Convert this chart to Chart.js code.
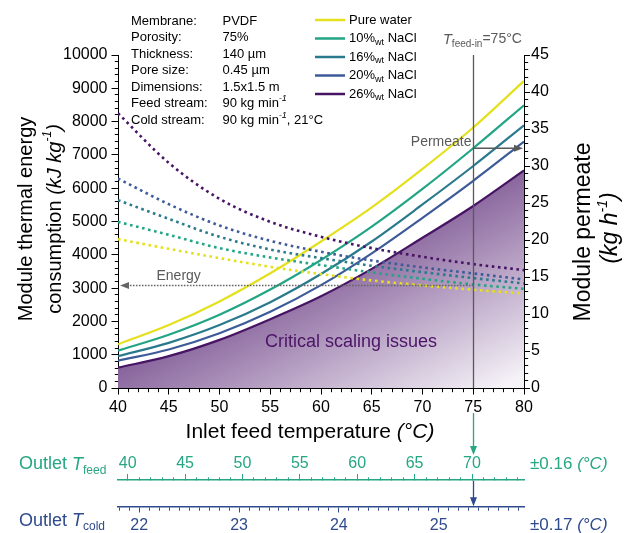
<!DOCTYPE html>
<html><head><meta charset="utf-8">
<script src="https://cdn.jsdelivr.net/npm/chart.js@4.4.1/dist/chart.umd.min.js"></script>
<style>html,body{margin:0;padding:0;background:#fff;}#wrap{width:624px;height:533px;position:relative;}</style>
</head><body><div id="wrap"><canvas id="c" width="624" height="533"></canvas></div>
<script>
// ---------- data ----------
const temperatures = [40, 45, 50, 55, 60, 65, 70, 75, 80];
const energyPure = [4470, 4180, 3900, 3640, 3420, 3230, 3080, 2950, 2840];
const energy10   = [4990, 4600, 4200, 3920, 3690, 3470, 3280, 3110, 2980];
const energy16   = [5640, 5080, 4540, 4160, 3900, 3670, 3480, 3300, 3140];
const energy20   = [6290, 5520, 4880, 4420, 4090, 3830, 3620, 3440, 3260];
const energy26   = [8250, 6760, 5680, 4990, 4540, 4200, 3940, 3720, 3540];
const permeatePure = [5.9, 8.5, 11.7, 15.5, 19.8, 24.4, 29.6, 35.2, 41.5];
const permeate10   = [5.05, 7.2, 9.9, 13.3, 17.3, 21.8, 26.9, 32.4, 38.2];
const permeate16   = [4.3, 6.1, 8.5, 11.6, 15.4, 19.8, 24.8, 30.0, 35.5];
const permeate20   = [3.7, 5.2, 7.4, 10.3, 13.9, 18.2, 23.0, 28.0, 33.3];
const permeate26   = [2.75, 4.3, 6.5, 9.3, 12.4, 16.1, 20.3, 24.6, 29.4];
const seriesLabels = ['Pure water', '10', '16', '20', '26'];
const xTickLabels = [40, 45, 50, 55, 60, 65, 70, 75, 80];
const energyTickLabels = [0, 1000, 2000, 3000, 4000, 5000, 6000, 7000, 8000, 9000, 10000];
const permeateTickLabels = [0, 5, 10, 15, 20, 25, 30, 35, 40, 45];
const feedOutletTickLabels = [40, 45, 50, 55, 60, 65, 70];
const coldOutletTickLabels = [22, 23, 24, 25];
const feedInletMarker = 75;
const permeateMarker = 32.4;
const energyMarker = 3090;
const infoLabels = ['Membrane:', 'Porosity:', 'Thickness:', 'Pore size:', 'Dimensions:', 'Feed stream:', 'Cold stream:'];

// ---------- style ----------
const FONT = '"Liberation Sans", Arial, Helvetica, sans-serif';
Chart.defaults.font.family = FONT;
Chart.defaults.color = '#000';
const COL = ['#e4e01e', '#23a585', '#2a7a8d', '#3d5b98', '#471464'];
const FEED_C = '#26a682';
const COLD_C = '#2f4b8d';
const GRAY = '#595959';

const isLabel = (arr, v) => arr.some(l => Math.abs(l - v) < 1e-6);
const pts = ys => temperatures.map((t, i) => ({x: t, y: ys[i]}));

function fillGradient(ctx) {
  const ch = ctx.chart, a = ch.chartArea;
  if (!a) return 'rgba(120,80,140,0.8)';
  const w = a.right - a.left, h = a.bottom - a.top;
  const g = ch.ctx.createLinearGradient(a.left + 0.42 * w, a.top + 0.675 * h, a.left + 0.63 * w, a.top + 1.19 * h);
  g.addColorStop(0, '#85609a');
  g.addColorStop(1, '#f6f3f8');
  return g;
}

const energySets = [energyPure, energy10, energy16, energy20, energy26];
const permSets = [permeatePure, permeate10, permeate16, permeate20, permeate26];
const datasets = [];
energySets.forEach((d, i) => datasets.push({
  data: pts(d), yAxisID: 'y', borderColor: COL[i], borderWidth: 2.6,
  borderDash: [2.6, 3.6], pointRadius: 0, cubicInterpolationMode: 'monotone', fill: false, order: 1
}));
permSets.forEach((d, i) => datasets.push({
  data: pts(d), yAxisID: 'y2', borderColor: COL[i], borderWidth: 2.2,
  pointRadius: 0, cubicInterpolationMode: 'monotone',
  fill: i === 4 ? 'origin' : false,
  backgroundColor: i === 4 ? fillGradient : 'transparent',
  order: i === 4 ? 10 : 2
}));

// ---------- text helpers ----------
function fnt(p) { return (p.i ? 'italic ' : '') + p.s + 'px ' + FONT; }
function rich(c, parts, x, y, align, rot) {
  c.save();
  c.translate(x, y);
  if (rot) c.rotate(rot);
  c.textBaseline = 'middle';
  let total = 0;
  const ws = parts.map(p => { c.font = fnt(p); const w = c.measureText(p.t).width; total += w; return w; });
  let cx = align === 'center' ? -total / 2 : align === 'right' ? -total : 0;
  parts.forEach((p, k) => {
    c.font = fnt(p); c.fillStyle = p.c || '#000';
    c.fillText(p.t, cx, p.dy || 0);
    cx += ws[k];
  });
  c.restore();
}
function seg(c, x1, y1, x2, y2) { c.beginPath(); c.moveTo(x1, y1); c.lineTo(x2, y2); c.stroke(); }
function head(c, x, y, dir, col) {
  c.save(); c.fillStyle = col; c.beginPath();
  const L = 9, W = 3.5;
  if (dir === 'right') { c.moveTo(x, y); c.lineTo(x - L, y - W); c.lineTo(x - L, y + W); }
  if (dir === 'left') { c.moveTo(x, y); c.lineTo(x + L, y - W); c.lineTo(x + L, y + W); }
  if (dir === 'down') { c.moveTo(x, y); c.lineTo(x - W, y - L); c.lineTo(x + W, y - L); }
  c.closePath(); c.fill(); c.restore();
}

const annot = {
  id: 'annot',
  afterDraw(chart) {
    const c = chart.ctx, sx = chart.scales.x, sy = chart.scales.y, sy2 = chart.scales.y2, a = chart.chartArea;
    const feedS = chart.scales.feed, coldS = chart.scales.cold;
    const px = Math.round(sx.getPixelForValue(feedInletMarker)) + 0.5;
    c.save();
    c.strokeStyle = GRAY; c.lineWidth = 1.3;
    seg(c, px, a.top, px, a.bottom);
    // permeate arrow
    const py = sy2.getPixelForValue(permeateMarker);
    seg(c, px, py, a.right - 8, py);
    head(c, a.right - 1, py, 'right', GRAY);
    // energy arrow
    const ey = Math.round(sy.getPixelForValue(energyMarker)) + 0.5;
    c.strokeStyle = '#666'; c.lineWidth = 1.6; c.setLineDash([1.6, 1.4]);
    seg(c, px, ey, a.left + 8, ey);
    c.setLineDash([]);
    head(c, a.left + 2, ey, 'left', '#666');
    // labels
    rich(c, [{t: 'Permeate', s: 14, c: GRAY}], px - 2, py - 6, 'right');
    rich(c, [{t: 'Energy', s: 14, c: GRAY}], 156.5, ey - 9, 'left');
    rich(c, [{t: 'T', s: 14.5, i: 1, c: GRAY}, {t: 'feed-in', s: 10, c: GRAY, dy: 5}, {t: '=75°C', s: 14, c: GRAY}], 443, 39.5, 'left');
    rich(c, [{t: 'Critical scaling issues', s: 18, c: '#4b1466'}], 265, 342.5, 'left');
    // arrows to outlet axes
    const fy = feedS._borderValue, cy = coldS._borderValue;
    c.strokeStyle = FEED_C; c.lineWidth = 1.3;
    seg(c, px, 413, px, 447);
    head(c, px, 455, 'down', FEED_C);
    c.strokeStyle = COLD_C;
    seg(c, px, fy + 1, px, cy - 7);
    head(c, px, cy - 0.5, 'down', COLD_C);
    // axis titles
    rich(c, [{t: 'Inlet feed temperature ', s: 21}, {t: '(°C)', s: 21, i: 1}], 310, 432, 'center');
    rich(c, [{t: 'Module thermal energy', s: 20}], 26, 219, 'center', -Math.PI / 2);
    rich(c, [{t: 'consumption ', s: 20}, {t: '(kJ kg', s: 20, i: 1}, {t: '-1', s: 12, i: 1, dy: -7}, {t: ')', s: 20, i: 1}], 55, 219, 'center', -Math.PI / 2);
    rich(c, [{t: 'Module permeate', s: 23}], 584, 232, 'center', -Math.PI / 2);
    rich(c, [{t: '(kg h', s: 23, i: 1}, {t: '-1', s: 14, i: 1, dy: -8}, {t: ')', s: 23, i: 1}], 611, 228, 'center', -Math.PI / 2);
    // outlet axis names
    rich(c, [{t: 'Outlet ', s: 18, c: FEED_C}, {t: 'T', s: 18, i: 1, c: FEED_C}, {t: 'feed', s: 12, c: FEED_C, dy: 6}], 19, 464.5, 'left');
    rich(c, [{t: 'Outlet ', s: 18, c: COLD_C}, {t: 'T', s: 18, i: 1, c: COLD_C}, {t: 'cold', s: 12, c: COLD_C, dy: 6}], 19, 521, 'left');
    rich(c, [{t: '±0.16 ', s: 17, c: FEED_C}, {t: '(°C)', s: 17, i: 1, c: FEED_C}], 530, 464.5, 'left');
    rich(c, [{t: '±0.17 ', s: 17, c: COLD_C}, {t: '(°C)', s: 17, i: 1, c: COLD_C}], 530, 525, 'left');
    // info block
    const infoVals = [[{t: 'PVDF', s: 13}], [{t: '75%', s: 13}], [{t: '140 µm', s: 13}], [{t: '0.45 µm', s: 13}],
      [{t: '1.5x1.5 m', s: 13}], [{t: '90 kg min', s: 13}, {t: '-1', s: 9, i: 1, dy: -5}],
      [{t: '90 kg min', s: 13}, {t: '-1', s: 9, i: 1, dy: -5}, {t: ', 21°C', s: 13}]];
    infoLabels.forEach((l, k) => {
      const yy = 21 + k * 16.5;
      rich(c, [{t: l, s: 13}], 131, yy, 'left');
      rich(c, infoVals[k], 222.5, yy, 'left');
    });
    // legend
    const ly = [20, 38.5, 57, 75.5, 94];
    seriesLabels.forEach((l, k) => {
      c.strokeStyle = COL[k]; c.lineWidth = 2.5;
      seg(c, 315, ly[k], 345, ly[k]);
      const parts = k === 0 ? [{t: l, s: 13}] : [{t: l + '%', s: 13}, {t: 'wt', s: 9, dy: 4}, {t: ' NaCl', s: 13}];
      rich(c, parts, 349, ly[k], 'left');
    });
    c.restore();
  }
};

function minorDash(arr) {
  return ctx => (ctx.tick && isLabel(arr, ctx.tick.value)) ? [] : [3.2, 100];
}

new Chart(document.getElementById('c'), {
  type: 'line',
  data: {datasets},
  options: {
    responsive: false, animation: false, devicePixelRatio: 1,
    layout: {padding: {top: 55, left: 0, right: 0, bottom: 0}},
    plugins: {legend: {display: false}, tooltip: {enabled: false}},
    elements: {line: {tension: 0}},
    scales: {
      x: {
        type: 'linear', position: 'bottom', min: 40, max: 80,
        ticks: {stepSize: 1, autoSkip: false, maxRotation: 0, font: {size: 16}, color: '#000', padding: 3,
          callback: v => isLabel(xTickLabels, v) ? String(v) : ''},
        grid: {drawOnChartArea: false, tickLength: 6.5, tickColor: '#000', tickBorderDash: minorDash(xTickLabels)},
        border: {color: '#000', width: 1},
        afterFit: s => { s.height = 145; }
      },
      y: {
        position: 'left', min: 0, max: 10000,
        ticks: {stepSize: 200, autoSkip: false, font: {size: 16}, color: '#000', padding: 4,
          callback: v => isLabel(energyTickLabels, v) ? String(v) : ''},
        grid: {drawOnChartArea: false, tickLength: 6.5, tickColor: '#000',
          tickBorderDash: ctx => (ctx.tick && isLabel(energyTickLabels, ctx.tick.value)) ? [] : [3.2, 100],
          tickBorderDashOffset: ctx => (ctx.tick && isLabel(energyTickLabels, ctx.tick.value)) ? 0 : -3.3},
        border: {color: '#000', width: 1},
        afterFit: s => { s.width = 118; }
      },
      y2: {
        position: 'right', min: 0, max: 45,
        ticks: {stepSize: 1, autoSkip: false, font: {size: 16}, color: '#000', padding: 1,
          callback: v => isLabel(permeateTickLabels, v) ? String(v) : ''},
        grid: {drawOnChartArea: false, tickLength: 6, tickColor: '#000', tickBorderDash: minorDash(permeateTickLabels)},
        border: {color: '#000', width: 1},
        afterFit: s => { s.width = 100; }
      },
      feed: {
        type: 'linear', axis: 'x', position: {y: -2763}, min: 39.155, max: 74.53,
        ticks: {stepSize: 1, includeBounds: false, autoSkip: false, maxRotation: 0, font: {size: 16}, color: FEED_C, padding: -19.1,
          callback: v => isLabel(feedOutletTickLabels, v) ? String(v) : ''},
        grid: {drawOnChartArea: false, tickLength: -6.5, tickColor: FEED_C, tickBorderDash: minorDash(feedOutletTickLabels)},
        border: {color: FEED_C, width: 1.5}
      },
      cold: {
        type: 'linear', axis: 'x', position: {y: -3565}, min: 21.787, max: 25.855,
        ticks: {stepSize: 0.1, includeBounds: false, autoSkip: false, maxRotation: 0, font: {size: 16}, color: COLD_C, padding: 4.4,
          callback: v => isLabel(coldOutletTickLabels, v) ? String(Math.round(v)) : ''},
        grid: {drawOnChartArea: false, tickLength: 5, tickColor: COLD_C, tickBorderDash: minorDash(coldOutletTickLabels)},
        border: {color: COLD_C, width: 1.5}
      }
    }
  },
  plugins: [annot]
});
</script>
</body></html>
